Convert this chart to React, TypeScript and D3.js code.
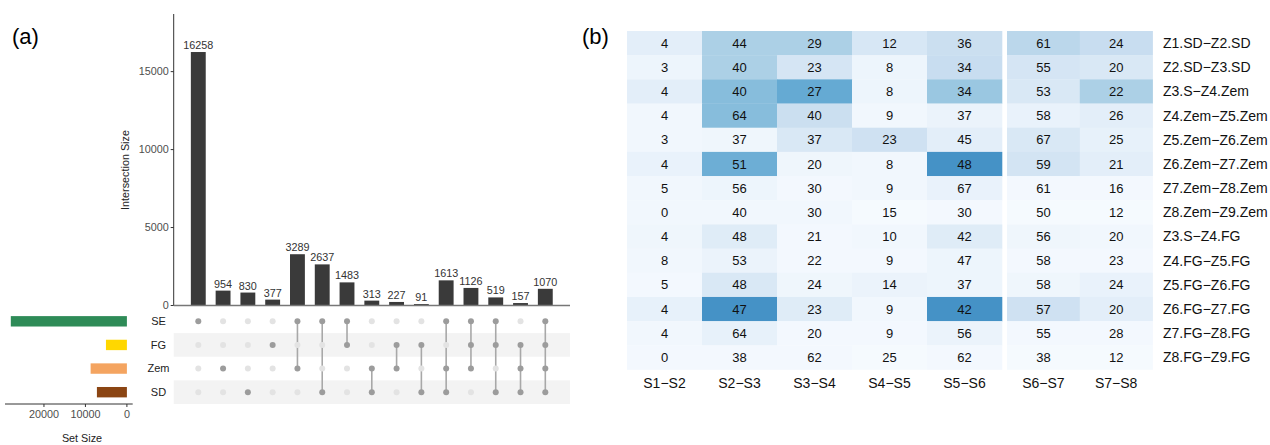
import * as d3 from "d3";

// ---- panel (a): UpSet data ----
const sets = ["SE", "FG", "Zem", "SD"];
const setColors = ["#2e8b57", "#ffd700", "#f4a460", "#8b4513"];
const combos: string[][] = [
  ["SE"], ["Zem"], ["SD"], ["FG"],
  ["SE", "Zem"], ["SE", "SD"], ["SE", "FG"], ["Zem", "SD"], ["FG", "Zem"], ["FG", "SD"],
  ["SE", "Zem", "SD"], ["SE", "FG", "Zem"], ["SE", "FG", "SD"], ["FG", "Zem", "SD"],
  ["SE", "FG", "Zem", "SD"],
];
const comboSizes = [16258, 954, 830, 377, 3289, 2637, 1483, 313, 227, 91, 1613, 1126, 519, 157, 1070];

// ---- panel (b): heatmap data ----
const colLabels = ["S1\u2212S2", "S2\u2212S3", "S3\u2212S4", "S4\u2212S5", "S5\u2212S6", "S6\u2212S7", "S7\u2212S8"];
const rowLabels = [
  "Z1.SD\u2212Z2.SD", "Z2.SD\u2212Z3.SD", "Z3.S\u2212Z4.Zem", "Z4.Zem\u2212Z5.Zem", "Z5.Zem\u2212Z6.Zem",
  "Z6.Zem\u2212Z7.Zem", "Z7.Zem\u2212Z8.Zem", "Z8.Zem\u2212Z9.Zem", "Z3.S\u2212Z4.FG", "Z4.FG\u2212Z5.FG",
  "Z5.FG\u2212Z6.FG", "Z6.FG\u2212Z7.FG", "Z7.FG\u2212Z8.FG", "Z8.FG\u2212Z9.FG",
];
const cellValues = [
  [4, 44, 29, 12, 36, 61, 24],
  [3, 40, 23, 8, 34, 55, 20],
  [4, 40, 27, 8, 34, 53, 22],
  [4, 64, 40, 9, 37, 58, 26],
  [3, 37, 37, 23, 45, 67, 25],
  [4, 51, 20, 8, 48, 59, 21],
  [5, 56, 30, 9, 67, 61, 16],
  [0, 40, 30, 15, 30, 50, 12],
  [4, 48, 21, 10, 42, 56, 20],
  [8, 53, 22, 9, 47, 58, 23],
  [5, 48, 24, 14, 37, 58, 24],
  [4, 47, 23, 9, 42, 57, 20],
  [4, 64, 20, 9, 56, 55, 28],
  [0, 38, 62, 25, 62, 38, 12],
];
// colour intensity of each cell (read from the fill, 0..1 on the Blues ramp)
const cellShade = [
  [0.1, 0.33, 0.33, 0.16, 0.22, 0.28, 0.23],
  [0.05, 0.33, 0.17, 0.05, 0.23, 0.17, 0.15],
  [0.1, 0.43, 0.52, 0.05, 0.38, 0.15, 0.33],
  [0.03, 0.43, 0.22, 0.03, 0.06, 0.07, 0.1],
  [0.03, 0.04, 0.15, 0.2, 0.1, 0.15, 0.08],
  [0.07, 0.5, 0.04, 0.03, 0.62, 0.18, 0.1],
  [0.03, 0.05, 0.02, 0.03, 0.07, 0.02, 0.02],
  [0.03, 0.03, 0.03, 0.01, 0.02, 0.01, 0.01],
  [0.04, 0.12, 0.02, 0.03, 0.12, 0.04, 0.03],
  [0.03, 0.06, 0.02, 0.02, 0.05, 0.02, 0.02],
  [0.02, 0.15, 0.04, 0.06, 0.05, 0.04, 0.07],
  [0.08, 0.62, 0.12, 0.03, 0.62, 0.2, 0.1],
  [0.03, 0.08, 0.02, 0.02, 0.06, 0.02, 0.02],
  [0.02, 0.02, 0.02, 0.01, 0.02, 0.01, 0.01],
];

const FONT = "'Liberation Sans', Arial, Helvetica, sans-serif";

function UpSet() {
  const idx = comboSizes.map((_, i) => i);
  const x = d3.scaleBand<number>().domain(idx).range([185.9, 557.7]).paddingInner(0.4).paddingOuter(0.2);
  const y = d3.scaleLinear().domain([0, d3.max(comboSizes)! * 1.15]).range([305.5, 14]);
  const rowY = d3.scaleBand<string>().domain(sets).range([309.5, 404]);
  const setSizes = sets.map((s) => d3.sum(combos.map((c, i) => (c.includes(s) ? comboSizes[i] : 0))));
  const maxSet = d3.max(setSizes)!;
  const sx = d3.scaleLinear().domain([-0.05 * maxSet, 1.05 * maxSet]).range([132.7, 5]);
  const left = 173.7;
  const right = 570;

  return (
    <g fontFamily={FONT}>
      {/* y axis */}
      <line x1={left} x2={left} y1={14} y2={305.5} stroke="#333" strokeWidth={1} />
      {y.ticks(4).map((t) => (
        <g key={t}>
          <line x1={left - 3} x2={left} y1={y(t)} y2={y(t)} stroke="#333" />
          <text x={left - 5} y={y(t)} dy="0.35em" textAnchor="end" fontSize={10.8} fill="#4d4d4d">{t}</text>
        </g>
      ))}
      <text transform={`translate(129,170) rotate(-90)`} textAnchor="middle" fontSize={10.8} fill="#222">Intersection Size</text>
      {/* bars */}
      {comboSizes.map((v, i) => (
        <g key={i}>
          <rect x={x(i)} y={y(v)} width={x.bandwidth()} height={y(0) - y(v)} fill="#3a3a3a" />
          <text x={x(i)! + x.bandwidth() / 2} y={y(v) - 3} textAnchor="middle" fontSize={10.8} fill="#333">{v}</text>
        </g>
      ))}
      <line x1={left} x2={right} y1={305.5} y2={305.5} stroke="#777" strokeWidth={1.5} />
      {/* matrix stripes */}
      {sets.map((s, j) => j % 2 === 1 && (
        <rect key={s} x={left} y={rowY(s)} width={right - left} height={rowY.bandwidth()} fill="#f3f3f3" />
      ))}
      {/* connectors and dots */}
      {combos.map((c, i) => {
        const cx = x(i)! + x.bandwidth() / 2;
        const ys = c.map((s) => rowY(s)! + rowY.bandwidth() / 2);
        return (
          <g key={i}>
            {c.length > 1 && (
              <line x1={cx} x2={cx} y1={d3.min(ys)} y2={d3.max(ys)} stroke="#a8a8a8" strokeWidth={1.6} />
            )}
            {sets.map((s) => (
              <circle key={s} cx={cx} cy={rowY(s)! + rowY.bandwidth() / 2} r={3}
                fill={c.includes(s) ? "#9c9c9c" : "#e3e3e3"} />
            ))}
          </g>
        );
      })}
      {/* set labels */}
      {sets.map((s) => (
        <text key={s} x={158.5} y={rowY(s)! + rowY.bandwidth() / 2} dy="0.35em" textAnchor="middle" fontSize={11} fill="#222">{s}</text>
      ))}
      {/* set size bars */}
      {sets.map((s, j) => (
        <rect key={s} x={sx(setSizes[j])} y={rowY(s)! + rowY.bandwidth() / 2 - 5.2}
          width={sx(0) - sx(setSizes[j])} height={10.4} fill={setColors[j]} />
      ))}
      <line x1={5} x2={132.7} y1={404} y2={404} stroke="#333" />
      {[0, 10000, 20000].map((t) => (
        <g key={t}>
          <line x1={sx(t)} x2={sx(t)} y1={404} y2={407} stroke="#333" />
          <text x={sx(t)} y={418} textAnchor="middle" fontSize={10.8} fill="#4d4d4d">{t}</text>
        </g>
      ))}
      <text x={82} y={442} textAnchor="middle" fontSize={10.8} fill="#222">Set Size</text>
      <text x={12} y={44} fontSize={22} fill="#000">(a)</text>
    </g>
  );
}

function Heatmap() {
  const xl = d3.scaleBand<number>().domain([0, 1, 2, 3, 4]).range([627, 1002]);
  const xr = d3.scaleBand<number>().domain([5, 6]).range([1007, 1152.6]);
  const colX = (j: number) => (j < 5 ? xl(j)! : xr(j)!);
  const colW = (j: number) => (j < 5 ? xl.bandwidth() : xr.bandwidth());
  const y = d3.scaleBand<string>().domain(rowLabels).range([31, 369.5]);
  const color = (t: number) => d3.interpolateBlues(t);

  return (
    <g fontFamily={FONT}>
      {cellValues.map((row, i) =>
        row.map((v, j) => (
          <g key={`${i}-${j}`}>
            <rect x={colX(j)} y={y(rowLabels[i])} width={colW(j) + 0.3} height={y.bandwidth() + 0.3}
              fill={color(cellShade[i][j])} />
            <text x={colX(j) + colW(j) / 2} y={y(rowLabels[i])! + y.bandwidth() / 2} dy="0.35em"
              textAnchor="middle" fontSize={13} fill="#111">{v}</text>
          </g>
        )),
      )}
      {rowLabels.map((r) => (
        <text key={r} x={1163} y={y(r)! + y.bandwidth() / 2} dy="0.35em" fontSize={14} fill="#111">{r}</text>
      ))}
      {colLabels.map((c, j) => (
        <text key={c} x={colX(j) + colW(j) / 2} y={383} dy="0.35em" textAnchor="middle" fontSize={14} fill="#111">{c}</text>
      ))}
      <text x={582} y={44} fontSize={22} fill="#000">(b)</text>
    </g>
  );
}

export default function App() {
  return (
    <svg width={1270} height={445} style={{ position: "absolute", left: 0, top: 0, background: "#fff" }}>
      <UpSet />
      <Heatmap />
    </svg>
  );
}
